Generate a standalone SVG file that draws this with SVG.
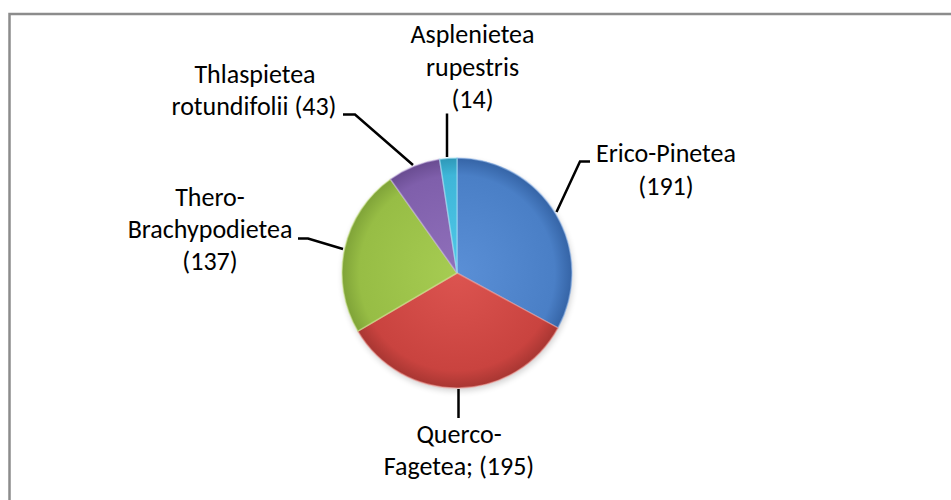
<svg xmlns="http://www.w3.org/2000/svg" width="951" height="500" viewBox="0 0 951 500">
<style>
.lbl{font-family:Carlito,Calibri,"Liberation Sans",sans-serif;font-size:26px;fill:#000;text-anchor:middle}
.lead{fill:none;stroke:#000;stroke-width:2.5;stroke-linejoin:miter}
.sl{stroke-width:1.5;stroke-opacity:0.55}
</style>
<defs>
<radialGradient id="gBlue" gradientUnits="userSpaceOnUse" cx="457" cy="273" r="115">
<stop offset="0" stop-color="#5a8fd6"/><stop offset="0.85" stop-color="#4a7fc6"/><stop offset="1" stop-color="#3564a6"/>
</radialGradient>
<radialGradient id="gRed" gradientUnits="userSpaceOnUse" cx="457" cy="273" r="115">
<stop offset="0" stop-color="#dc5450"/><stop offset="0.85" stop-color="#c9433f"/><stop offset="1" stop-color="#a83632"/>
</radialGradient>
<radialGradient id="gGreen" gradientUnits="userSpaceOnUse" cx="457" cy="273" r="115">
<stop offset="0" stop-color="#a6cc52"/><stop offset="0.85" stop-color="#97bd45"/><stop offset="1" stop-color="#7fa338"/>
</radialGradient>
<radialGradient id="gPurple" gradientUnits="userSpaceOnUse" cx="457" cy="273" r="115">
<stop offset="0" stop-color="#9070bb"/><stop offset="0.85" stop-color="#7f5fab"/><stop offset="1" stop-color="#694c91"/>
</radialGradient>
<radialGradient id="gCyan" gradientUnits="userSpaceOnUse" cx="457" cy="273" r="115">
<stop offset="0" stop-color="#4fc8e8"/><stop offset="0.85" stop-color="#3fb6d8"/><stop offset="1" stop-color="#2f98b8"/>
</radialGradient>
<filter id="shadow" x="-20%" y="-20%" width="140%" height="140%">
<feGaussianBlur stdDeviation="3"/>
</filter>
</defs>
<rect width="951" height="500" fill="#fff"/>
<g id="frame" fill="none" stroke="#8c8c8c" stroke-width="2.5">
<path d="M9.5,500 V14 H951"/>
</g>
<circle cx="458" cy="276" r="115" fill="#000" opacity="0.18" filter="url(#shadow)"/>
<g id="slice-erico"><path class="sl" stroke="#9cc0ee" fill="url(#gBlue)" d="M457,273 L457,158 A115,115 0 0 1 558.02,327.95 Z"/></g>
<g id="slice-querco"><path class="sl" stroke="#f09a96" fill="url(#gRed)" d="M457,273 L558.02,327.95 A115,115 0 0 1 357.83,331.2 Z"/></g>
<g id="slice-thero"><path class="sl" stroke="#d2ea96" fill="url(#gGreen)" d="M457,273 L357.83,331.2 A115,115 0 0 1 390.42,179.24 Z"/></g>
<g id="slice-thlaspietea"><path class="sl" stroke="#c2aee0" fill="url(#gPurple)" d="M457,273 L390.42,179.24 A115,115 0 0 1 439.63,159.32 Z"/></g>
<g id="slice-asplenietea"><path class="sl" stroke="#a8e6f6" fill="url(#gCyan)" d="M457,273 L439.63,159.32 A115,115 0 0 1 457,158 Z"/></g>
<g id="connectors">
<path class="lead" d="M556.5,212 L580,161.5 H590"/>
<path class="lead" d="M413,165 L355,114.5 H343"/>
<path class="lead" d="M447,157 V113.5"/>
<path class="lead" d="M343,249 L308,238.5 H298"/>
<path class="lead" d="M458.5,389 V418"/>
</g>
<g id="label-erico"><text class="lbl" x="666" y="162">Erico-Pinetea</text><text class="lbl" x="666" y="195">(191)</text></g>
<g id="label-asplenietea"><text class="lbl" x="472.5" y="43">Asplenietea</text><text class="lbl" x="472.5" y="75.5">rupestris</text><text class="lbl" x="472.5" y="108">(14)</text></g>
<g id="label-thlaspietea"><text class="lbl" x="255" y="83">Thlaspietea</text><text class="lbl" x="254" y="115">rotundifolii (43)</text></g>
<g id="label-thero"><text class="lbl" x="210" y="206">Thero-</text><text class="lbl" x="210" y="238">Brachypodietea</text><text class="lbl" x="210" y="270">(137)</text></g>
<g id="label-querco"><text class="lbl" x="459" y="443">Querco-</text><text class="lbl" x="459" y="475">Fagetea; (195)</text></g>
</svg>
